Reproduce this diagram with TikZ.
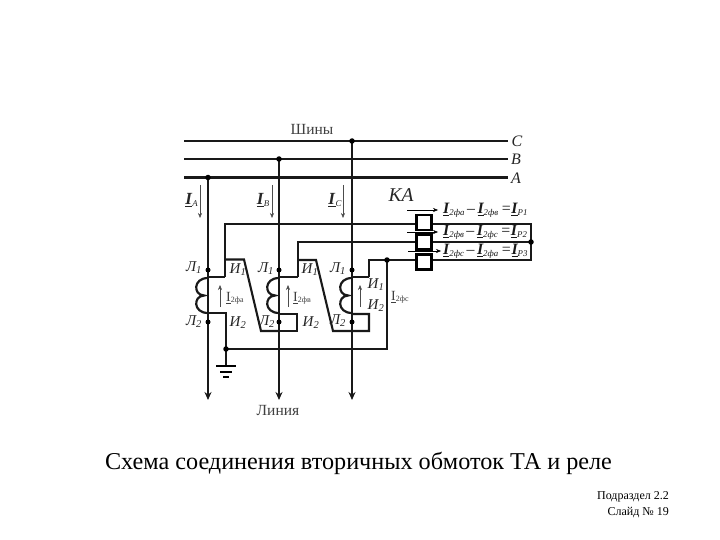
\documentclass[tikz,border=0pt]{standalone}
\usepackage{fontspec}
\setmainfont{Liberation Serif}
\usetikzlibrary{arrows.meta}
\newcommand{\ulI}[1]{\underline{\textbf{\textit{I}}}\raisebox{-0.25ex}{\fontsize{8.8}{10}\selectfont\textit{#1}}}
\newcommand{\uI}[1]{\underline{I}\raisebox{-0.1ex}{\footnotesize #1}}
\newcommand{\fml}[3]{\ulI{#1}\,–\,\ulI{#2}\,=\ulI{#3}}
\tikzset{
  x=1pt,y=-1pt,
  bus/.style={line width=2.3pt,black!90},
  phase/.style={line width=2.7pt,black!90,-{Stealth[length=8pt,width=7pt]}},
  wire/.style={line width=2.1pt,black!90,line join=miter},
  coilw/.style={line width=2.2pt,black!90},
  cur/.style={line width=.5pt,black!70,-{Stealth[length=5pt,width=4pt]}},
  relay/.style={draw=black,line width=2.2pt,fill=white,minimum width=15pt,minimum height=15pt,inner sep=0pt,outer sep=0pt},
  txt/.style={inner sep=0pt,black!75,font=\fontsize{15.5}{17}\selectfont},
  lab/.style={inner sep=0pt,black!85,font=\fontsize{15}{17}\selectfont\itshape},
  fm/.style={inner sep=0pt,anchor=west,black!90,font=\fontsize{15.8}{18}\selectfont\itshape},
  pt/.style={circle,fill=black,inner sep=0pt,minimum size=#1},
  pt/.default=5.5pt
}
\begin{document}
\begin{tikzpicture}
\useasboundingbox (0,0) rectangle (720,540);
\fill[white] (0,0) rectangle (720,540);
% buses
\coordinate (cL) at (184,141); \coordinate (cR) at (508,141);
\coordinate (bL) at (184,159); \coordinate (bR) at (508,159);
\coordinate (aL) at (184,177.5); \coordinate (aR) at (508,177.5);
\draw[bus] (cL)--(cR); \draw[bus] (bL)--(bR); \draw[bus] (aL)--(aR);
\node[txt] (shiny) at (312,129) {Шины};
\node[lab,font=\fontsize{16}{16}\selectfont\itshape] (lc) at (517,141) {C};
\node[lab,font=\fontsize{16}{16}\selectfont\itshape] (lb) at (516,159) {B};
\node[lab,font=\fontsize{16}{16}\selectfont\itshape] (la) at (516,178) {A};
% phases
\coordinate (pa) at (208,177.5); \coordinate (pb) at (279,159); \coordinate (pc) at (352,141);
\coordinate (pae) at (208,400); \coordinate (pbe) at (279,400); \coordinate (pce) at (352,400);
\draw[phase] (pa)--(pae); \draw[phase] (pb)--(pbe); \draw[phase] (pc)--(pce);
\node[pt] (dpa) at (pa) {}; \node[pt] (dpb) at (pb) {}; \node[pt] (dpc) at (pc) {};
\node[txt] (linia) at (278,410) {Линия};
% line currents
\foreach \n/\x/\lx/\l in {a/200/191.5/A,b/272/263/B,c/343/335/C}{
  \coordinate (i\n t) at (\x,185); \coordinate (i\n b) at (\x,218);
  \draw[cur] (i\n t)--(i\n b);
  \node[inner sep=0pt,black!85,font=\fontsize{17}{18}\selectfont] (il\n) at (\lx,200) {\ulI{\l}};
}
% relays
\coordinate (wt) at (225,224); \coordinate (wm) at (298,242); \coordinate (wb) at (369,260);
\coordinate (r1) at (531,224); \coordinate (r2) at (531,242); \coordinate (r3) at (531,260);
\draw[wire] (225,277)--(wt)--(r1)--(r3)--(wb)--(369,277);
\draw[wire] (298,277)--(wm)--(r2);
\node[relay] (k1) at (424,222.5) {};
\node[relay] (k2) at (424,242) {};
\node[relay] (k3) at (424,262) {};
\node[lab,font=\fontsize{19.5}{20}\selectfont\itshape] (ka) at (401,195) {КА};
\node[pt] (dr) at (r2) {};
% TA 1
\draw[wire] (208,277)--(225,277);
\draw[wire] (225,259.5)--(244,259.5)--(261,331)--(279,331);
\draw[wire] (208,313)--(226,313)--(226,349);
\draw[wire] (226,349)--(226,365);
% TA 2
\draw[wire] (279,277)--(298,277);
\draw[wire] (298,260)--(316,260)--(333,331)--(369,331)--(369,314)--(352,314);
\draw[wire] (279,314)--(297,314)--(297,331)--(279,331);
% TA 3
\draw[wire] (352,277)--(369,277);
\draw[wire] (387,260)--(387,349)--(226,349);
% coils
\foreach \x in {208,279,352}{
  \draw[coilw] (\x,278) .. controls (\x-15,278) and (\x-15,295) .. (\x-4,295.5)
     .. controls (\x-15,296) and (\x-15,313) .. (\x,313);
  \node[pt=5pt] at (\x,270) {}; \node[pt=5pt] at (\x,322) {};
}
\node[pt] (d1) at (226,349) {};
\node[pt] (d2) at (387,260) {};
% ground
\draw[line width=1.7pt] (216,366)--(236,366);
\draw[line width=1.7pt] (220,372)--(232,372);
\draw[line width=1.7pt] (223,377)--(229,377);
% winding labels
\foreach \x/\y/\t in {194/268/Л,266/269/Л,338/269/Л}{\node[lab] at (\x,\y) {\t\textsubscript{1}};}
\foreach \x/\y/\t in {194/322/Л,267/322/Л,338/321/Л}{\node[lab] at (\x,\y) {\t\textsubscript{2}};}
\foreach \x/\y/\t in {238/270/И,310/270/И,376/285/И}{\node[lab] at (\x,\y) {\t\textsubscript{1}};}
\foreach \x/\y/\t in {238/323/И,311/323/И,376/306/И}{\node[lab] at (\x,\y) {\t\textsubscript{2}};}
% secondary currents
\foreach \x in {220,288,360}{\draw[cur] (\x,307)--(\x,285);}
\node[txt,anchor=west,font=\fontsize{14}{15}\selectfont] at (226,298) {\uI{2фа}};
\node[txt,anchor=west,font=\fontsize{14}{15}\selectfont] at (293,298) {\uI{2фв}};
\node[txt,anchor=west,font=\fontsize{14}{15}\selectfont] at (391,297) {\uI{2фс}};
% relay currents
\foreach \y/\xa/\xb in {210/407/438,232/407/438,251/408/441}{\draw[cur,black] (\xa,\y)--(\xb,\y);}
\node[fm] at (443,210.5) {\fml{2фа}{2фв}{P1}};
\node[fm] at (443,232.5) {\fml{2фв}{2фс}{P2}};
\node[fm] at (443,251.5) {\fml{2фс}{2фа}{P3}};
% captions
\node[inner sep=0pt,font=\fontsize{24.2}{26}\selectfont] (title) at (358.5,463) {Схема соединения вторичных обмоток ТА и реле};
\node[inner sep=0pt,anchor=east,font=\fontsize{12}{14}\selectfont] (s1) at (669,497) {Подраздел 2.2};
\node[inner sep=0pt,anchor=east,font=\fontsize{12}{14}\selectfont] (s2) at (669,513) {Слайд № 19};
\end{tikzpicture}
\end{document}
